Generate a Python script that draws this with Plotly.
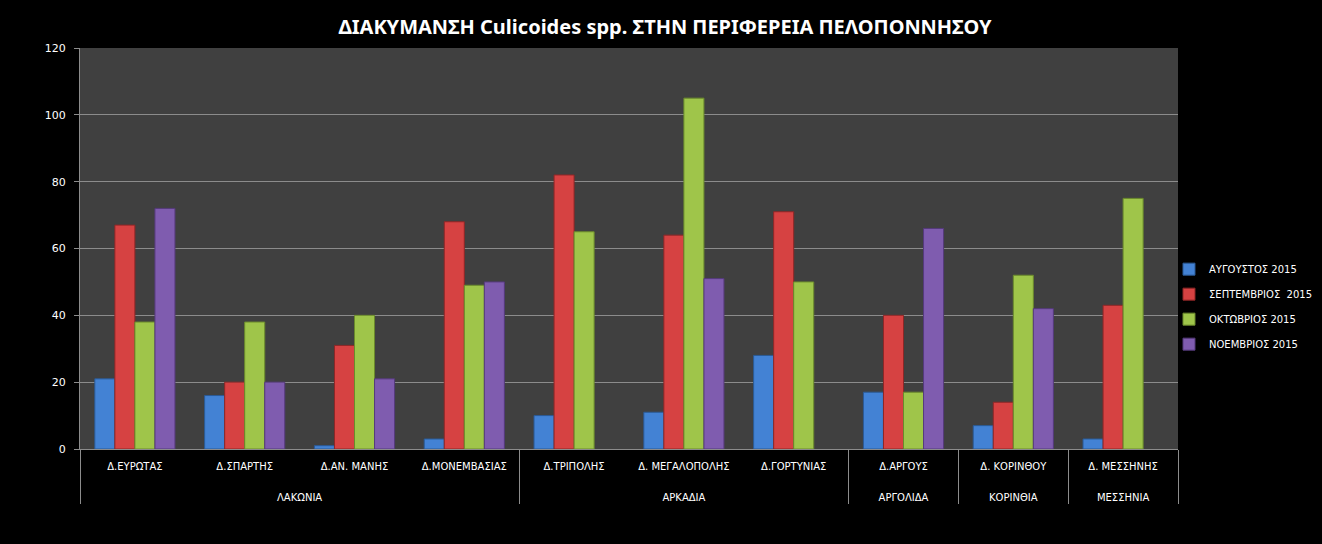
import plotly.graph_objects as go

# Data
regions = ["ΛΑΚΩΝΙΑ", "ΛΑΚΩΝΙΑ", "ΛΑΚΩΝΙΑ", "ΛΑΚΩΝΙΑ",
           "ΑΡΚΑΔΙΑ", "ΑΡΚΑΔΙΑ", "ΑΡΚΑΔΙΑ",
           "ΑΡΓΟΛΙΔΑ", "ΚΟΡΙΝΘΙΑ", "ΜΕΣΣΗΝΙΑ"]
districts = ["Δ.ΕΥΡΩΤΑΣ", "Δ.ΣΠΑΡΤΗΣ", "Δ.ΑΝ. ΜΑΝΗΣ", "Δ.ΜΟΝΕΜΒΑΣΙΑΣ",
             "Δ.ΤΡΙΠΟΛΗΣ", "Δ. ΜΕΓΑΛΟΠΟΛΗΣ", "Δ.ΓΟΡΤΥΝΙΑΣ",
             "Δ.ΑΡΓΟΥΣ", "Δ. ΚΟΡΙΝΘΟΥ", "Δ. ΜΕΣΣΗΝΗΣ"]

aug_2015 = [21, 16, 1, 3, 10, 11, 28, 17, 7, 3]
sep_2015 = [67, 20, 31, 68, 82, 64, 71, 40, 14, 43]
oct_2015 = [38, 38, 40, 49, 65, 105, 50, 17, 52, 75]
nov_2015 = [72, 20, 21, 50, None, 51, None, 66, 42, None]

series = [
    ("ΑΥΓΟΥΣΤΟΣ 2015", aug_2015, "#4382d4", "#2a5a96"),
    ("ΣΕΠΤΕΜΒΡΙΟΣ  2015", sep_2015, "#d64242", "#8e2626"),
    ("ΟΚΤΩΒΡΙΟΣ 2015", oct_2015, "#9fc54a", "#6a8a2c"),
    ("ΝΟΕΜΒΡΙΟΣ 2015", nov_2015, "#7f5caf", "#553a7c"),
]

# blank lines under the district names push the region row down
district_labels = [d + "<br> <br> " for d in districts]

fig = go.Figure()
for i, (name, vals, color, edge) in enumerate(series):
    fig.add_trace(go.Bar(
        x=[regions, district_labels],
        y=vals,
        name=name,
        legendgroup=str(i),
        marker=dict(color=color, line=dict(color=edge, width=1)),
    ))

fig.update_layout(
    width=1322, height=544,
    paper_bgcolor="black",
    plot_bgcolor="#404040",
    barmode="group",
    bargap=0.27,
    bargroupgap=0,
    margin=dict(l=80, r=144, t=48, b=95, autoexpand=False),
    title=dict(
        text="<b>ΔΙΑΚΥΜΑΝΣΗ Culicoides spp. ΣΤΗΝ ΠΕΡΙΦΕΡΕΙΑ ΠΕΛΟΠΟΝΝΗΣΟΥ</b>",
        x=0.503, xanchor="center", y=0.95, yanchor="middle",
        font=dict(family="Noto Sans", size=20, color="white"),
    ),
    legend=dict(
        x=0.9918, xanchor="left", y=0.355, yanchor="middle",
        font=dict(family="DejaVu Sans", size=10, color="white"),
        itemwidth=30,
        tracegroupgap=6,
        bgcolor="rgba(0,0,0,0)",
    ),
    font=dict(family="DejaVu Sans", color="white"),
)

fig.update_xaxes(
    type="multicategory",
    showgrid=False,
    showline=True, linecolor="#8c8c8c", linewidth=1,
    ticks="",
    ticklabelstandoff=8,
    tickfont=dict(family="DejaVu Sans", size=10, color="white"),
    showdividers=True, dividercolor="#8c8c8c", dividerwidth=1,
    automargin=False,
)
fig.update_yaxes(
    range=[0, 120], dtick=20,
    showgrid=True, gridcolor="#8c8c8c", gridwidth=1,
    showline=True, linecolor="#8c8c8c", linewidth=1,
    ticks="outside", ticklen=5, tickcolor="#8c8c8c",
    ticklabelstandoff=6,
    tickfont=dict(family="DejaVu Sans", size=11, color="white"),
    zeroline=False,
    automargin=False,
)

fig.write_html("out.html", config={"displayModeBar": False},
               post_script="document.body.style.margin='0';")
